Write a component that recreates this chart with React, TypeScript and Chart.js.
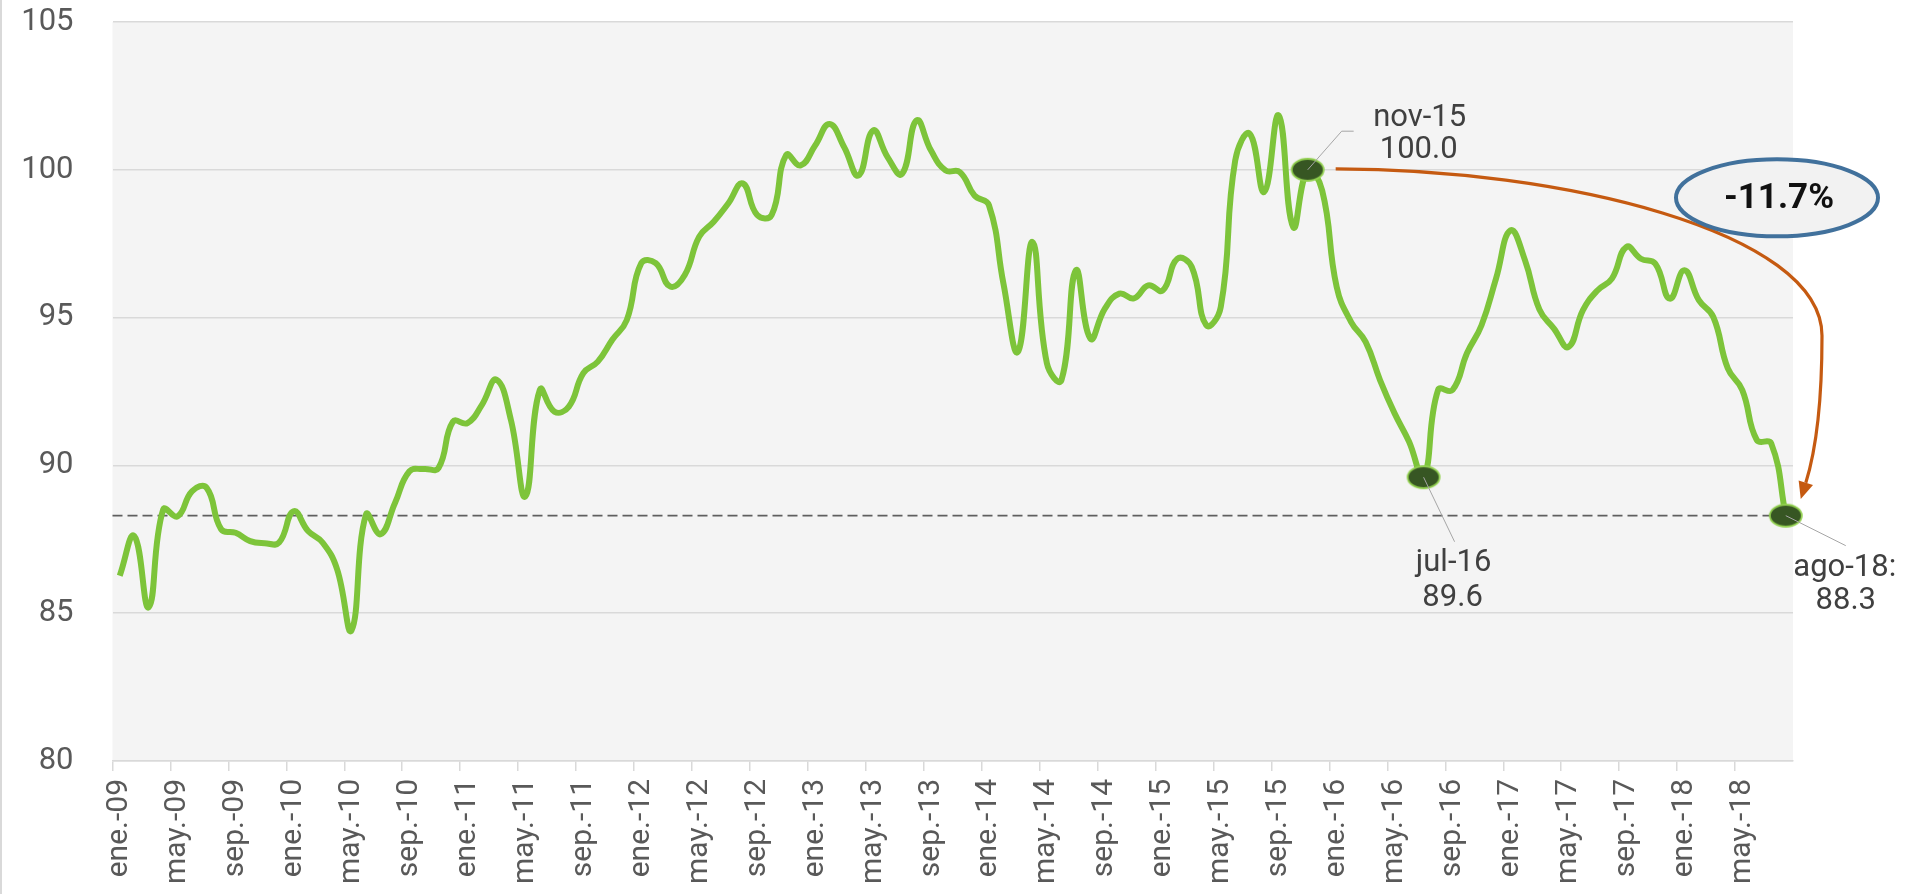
import { useEffect, useRef } from "react";
import { Chart, registerables } from "chart.js";

Chart.register(...registerables);

// ---------- data ----------
const MONTHS = ["ene.", "feb.", "mar.", "abr.", "may.", "jun.", "jul.", "ago.", "sep.", "oct.", "nov.", "dic."];
const YEARS = ["09", "10", "11", "12", "13", "14", "15", "16", "17", "18"];

const VALUES_2009 = [86.27, 87.61, 85.2, 88.51, 88.28, 89.13, 89.24, 87.84, 87.72, 87.44, 87.37, 87.39];
const VALUES_2010 = [88.45, 87.78, 87.39, 86.49, 84.42, 88.34, 87.67, 88.73, 89.8, 89.88, 89.91, 91.48];
const VALUES_2011 = [91.43, 92.05, 92.9, 91.54, 88.95, 92.56, 91.82, 91.99, 93.12, 93.51, 94.25, 94.92];
const VALUES_2012 = [96.84, 96.84, 96.05, 96.44, 97.74, 98.24, 98.86, 99.54, 98.47, 98.47, 100.5, 100.15];
const VALUES_2013 = [100.82, 101.55, 100.77, 99.81, 101.33, 100.43, 99.86, 101.67, 100.65, 99.98, 99.92, 99.13];
const VALUES_2014 = [98.8, 96.15, 93.84, 97.56, 93.45, 92.88, 96.6, 94.29, 95.3, 95.81, 95.65, 96.09];
const VALUES_2015 = [95.92, 96.99, 96.71, 94.74, 95.36, 100.32, 101.22, 99.25, 101.84, 98.06, 100.0, 99.3];
const VALUES_2016 = [96.04, 94.85, 94.18, 92.88, 91.76, 90.8, 89.6, 92.55, 92.55, 93.8, 94.74, 96.32];
const VALUES_2017 = [97.95, 96.94, 95.27, 94.63, 94.01, 95.25, 95.92, 96.32, 97.39, 96.99, 96.82, 95.64];
const VALUES_2018 = [96.6, 95.59, 95.02, 93.28, 92.55, 90.86, 90.74, 88.3];

const VALUES = [
  ...VALUES_2009, ...VALUES_2010, ...VALUES_2011, ...VALUES_2012, ...VALUES_2013,
  ...VALUES_2014, ...VALUES_2015, ...VALUES_2016, ...VALUES_2017, ...VALUES_2018,
];
const CATEGORIES = YEARS.flatMap((y) => MONTHS.map((m) => `${m}-${y}`)).slice(0, VALUES.length);

const Y_TICKS = [80, 85, 90, 95, 100, 105];
const LABEL_EVERY = 4;

// highlighted points: index, label text
const HIGHLIGHT_INDEX = [82, 90, 115];
const HIGHLIGHT_TEXT = ["nov-15", "jul-16", "ago-18:"];
const PEAK_INDEX = 82;
const LAST_INDEX = VALUES.length - 1;

// ---------- styles ----------
const LINE_COLOR = "#7dc43a";
const PLOT_BG = "#f4f4f4";
const GRID = "#d9d9d9";
const TICK_COLOR = "#595959";
const LABEL_COLOR = "#404040";
const ARROW_COLOR = "#c55a11";
const OVAL_COLOR = "#41719c";
const FONT = "Roboto";

function makeMarker(): HTMLCanvasElement {
  const c = document.createElement("canvas");
  c.width = 36;
  c.height = 26;
  const g = c.getContext("2d")!;
  g.beginPath();
  g.ellipse(18, 13, 16, 11, 0, 0, Math.PI * 2);
  g.fillStyle = "#375623";
  g.fill();
  g.lineWidth = 1.8;
  g.strokeStyle = "#92d050";
  g.stroke();
  return c;
}

const annotationPlugin = {
  id: "annotations",
  beforeDraw(chart: any) {
    const { ctx, chartArea: a } = chart;
    ctx.save();
    ctx.fillStyle = "#ffffff";
    ctx.fillRect(0, 0, chart.width, chart.height);
    ctx.fillStyle = PLOT_BG;
    ctx.fillRect(a.left, a.top, a.right - a.left, a.bottom - a.top);
    ctx.fillStyle = GRID;
    ctx.fillRect(0, 0, 2, chart.height);
    ctx.restore();
  },
  beforeDatasetsDraw(chart: any) {
    const { ctx, chartArea: a, scales } = chart;
    const pts = chart.getDatasetMeta(0).data;
    const y = scales.y.getPixelForValue(VALUES[LAST_INDEX]);
    ctx.save();
    ctx.strokeStyle = "#5f5f5f";
    ctx.lineWidth = 1.6;
    ctx.setLineDash([10, 5]);
    ctx.beginPath();
    ctx.moveTo(a.left, y);
    ctx.lineTo(pts[LAST_INDEX].x, y);
    ctx.stroke();
    ctx.restore();
  },
  afterDatasetsDraw(chart: any) {
    const { ctx, chartArea: a } = chart;
    const pts = chart.getDatasetMeta(0).data;
    const p0 = pts[HIGHLIGHT_INDEX[0]];
    const p1 = pts[HIGHLIGHT_INDEX[1]];
    const p2 = pts[HIGHLIGHT_INDEX[2]];

    ctx.save();
    // leader lines
    ctx.strokeStyle = "#a6a6a6";
    ctx.lineWidth = 1;
    ctx.beginPath();
    ctx.moveTo(p0.x, p0.y);
    ctx.lineTo(p0.x + 34, p0.y - 38.6);
    ctx.lineTo(p0.x + 46, p0.y - 38.6);
    ctx.moveTo(p1.x, p1.y);
    ctx.lineTo(p1.x + 31, p1.y + 64.5);
    ctx.moveTo(p2.x, p2.y);
    ctx.lineTo(p2.x + 60, p2.y + 30);
    ctx.stroke();

    // labels
    ctx.fillStyle = LABEL_COLOR;
    ctx.font = `31px ${FONT}`;
    ctx.textAlign = "center";
    ctx.textBaseline = "middle";
    const lab = (i: number) => VALUES[HIGHLIGHT_INDEX[i]].toFixed(1);
    ctx.fillText(HIGHLIGHT_TEXT[0], p0.x + 112, p0.y - 52);
    ctx.fillText(lab(0), p0.x + 111, p0.y - 20);
    ctx.fillText(HIGHLIGHT_TEXT[1], p1.x + 30, p1.y + 86);
    ctx.fillText(lab(1), p1.x + 29, p1.y + 121);
    ctx.fillText(HIGHLIGHT_TEXT[2], p2.x + 59, p2.y + 53);
    ctx.fillText(lab(2), p2.x + 60, p2.y + 86);

    // curved arrow from peak to last
    const pk = pts[PEAK_INDEX];
    const ls = pts[LAST_INDEX];
    const sx = pk.x + 28, sy = pk.y - 1;
    const mx = a.right + 29, my = pk.y + 166;
    const tx = ls.x + 15, ty = ls.y - 16.6;
    const qx = mx, qy = my + 95;
    let dx = tx - qx, dy = ty - qy;
    const dl = Math.hypot(dx, dy);
    dx /= dl; dy /= dl;
    const headLen = 17, headW = 7.5;
    const bx = tx - dx * headLen, by = ty - dy * headLen;
    ctx.strokeStyle = ARROW_COLOR;
    ctx.lineWidth = 3.2;
    ctx.beginPath();
    ctx.moveTo(sx, sy);
    ctx.bezierCurveTo(sx + 223, sy, mx, sy + 62, mx, my);
    ctx.quadraticCurveTo(qx, qy, bx, by);
    ctx.stroke();
    ctx.fillStyle = ARROW_COLOR;
    ctx.beginPath();
    ctx.moveTo(tx, ty);
    ctx.lineTo(bx - dy * headW, by + dx * headW);
    ctx.lineTo(bx + dy * headW, by - dx * headW);
    ctx.closePath();
    ctx.fill();

    // oval with percentage change
    const cx = a.right - 16, cy = pk.y + 28;
    ctx.beginPath();
    ctx.ellipse(cx, cy, 101, 38.5, 0, 0, Math.PI * 2);
    ctx.fillStyle = "#f2f2f2";
    ctx.fill();
    ctx.lineWidth = 4;
    ctx.strokeStyle = OVAL_COLOR;
    ctx.stroke();
    const change = (VALUES[LAST_INDEX] / VALUES[PEAK_INDEX] - 1) * 100;
    ctx.fillStyle = "#111111";
    ctx.font = `bold 35px ${FONT}`;
    ctx.fillText(`${change.toFixed(1)}%`, cx + 2, cy + 1);
    ctx.restore();
  },
};

export default function App() {
  const ref = useRef<HTMLCanvasElement | null>(null);

  useEffect(() => {
    const canvas = ref.current;
    if (!canvas) return;
    const marker = makeMarker();
    const radii = VALUES.map((_, i) => (HIGHLIGHT_INDEX.includes(i) ? 10 : 0));
    const styles = VALUES.map((_, i) => (HIGHLIGHT_INDEX.includes(i) ? marker : "circle"));

    const chart = new Chart(canvas, {
      type: "line",
      data: {
        labels: CATEGORIES,
        datasets: [
          {
            data: VALUES,
            borderColor: LINE_COLOR,
            borderWidth: 6,
            tension: 0.45,
            fill: false,
            pointRadius: radii as any,
            pointHoverRadius: radii as any,
            pointStyle: styles as any,
            clip: false as any,
          },
        ],
      },
      options: {
        responsive: false,
        animation: false,
        devicePixelRatio: 1,
        events: [],
        layout: { padding: { top: 22, right: 122, left: 0, bottom: 0 } },
        plugins: { legend: { display: false }, tooltip: { enabled: false } },
        scales: {
          x: {
            type: "category",
            offset: true,
            grid: {
              offset: true,
              drawOnChartArea: false,
              tickLength: 10,
              lineWidth: 1.5,
              color: (c: any) => (c.index % LABEL_EVERY === 0 ? GRID : "rgba(0,0,0,0)"),
            },
            border: { display: true, color: GRID, width: 1.5 },
            ticks: {
              autoSkip: false,
              maxRotation: 90,
              minRotation: 90,
              padding: 8,
              color: TICK_COLOR,
              font: { family: FONT, size: 30 },
              callback: (_v: any, i: number) => (i % LABEL_EVERY === 0 ? CATEGORIES[i] : ""),
            },
            afterFit: (s: any) => {
              s.height = 133;
            },
          },
          y: {
            min: Y_TICKS[0],
            max: Y_TICKS[Y_TICKS.length - 1],
            afterBuildTicks: (s: any) => {
              s.ticks = Y_TICKS.map((v) => ({ value: v }));
            },
            grid: { color: GRID, lineWidth: 1.5, drawTicks: true, tickLength: 37, tickColor: "rgba(0,0,0,0)" },
            border: { display: false },
            ticks: {
              padding: 2,
              color: TICK_COLOR,
              font: { family: FONT, size: 31 },
            },
            afterFit: (s: any) => {
              s.width = 112.5;
            },
          },
        },
      },
      plugins: [annotationPlugin],
    });
    return () => chart.destroy();
  }, []);

  return (
    <canvas
      ref={ref}
      width={1915}
      height={894}
      style={{ position: "fixed", left: 0, top: 0, width: "1915px", height: "894px", display: "block" }}
    />
  );
}
